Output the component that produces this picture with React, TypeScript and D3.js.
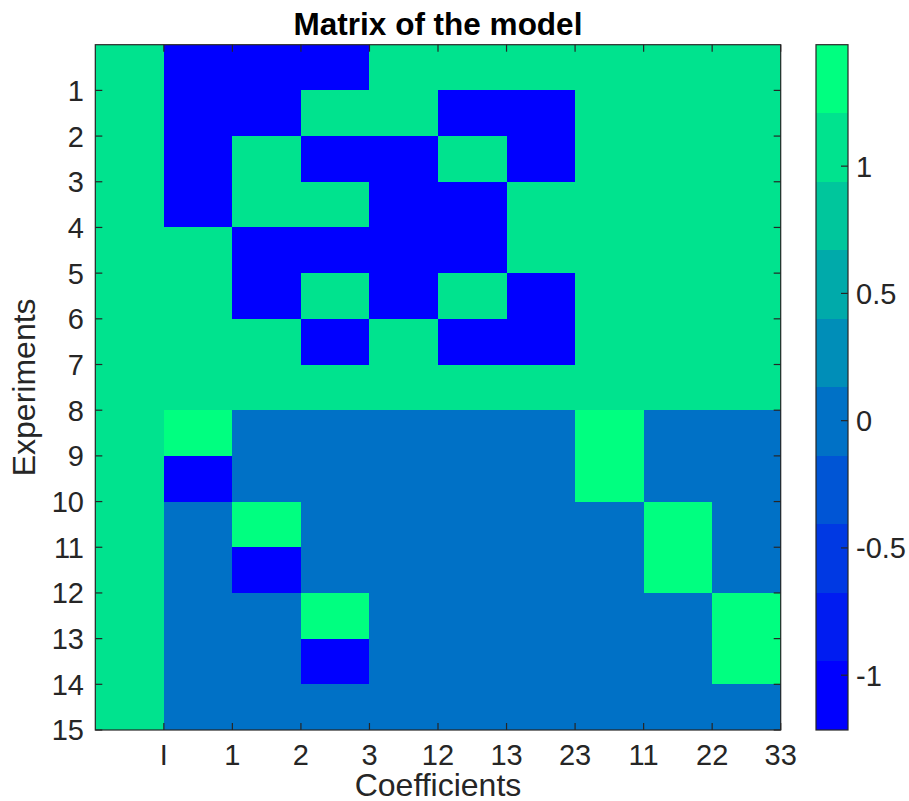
import React from "react";
import * as d3 from "d3";

// Model matrix of a 3-factor orthogonal central composite design (1 centre point)
const A = 1.2154; // axial distance
const A2 = 1.4772; // axial distance squared

const coefficients = ["I", "1", "2", "3", "12", "13", "23", "11", "22", "33"];
const experiments = ["1", "2", "3", "4", "5", "6", "7", "8", "9", "10", "11", "12", "13", "14", "15"];

const modelRows: number[][] = [
  [1, -1, -1, -1, 1, 1, 1, 1, 1, 1],
  [1, -1, -1, 1, 1, -1, -1, 1, 1, 1],
  [1, -1, 1, -1, -1, 1, -1, 1, 1, 1],
  [1, -1, 1, 1, -1, -1, 1, 1, 1, 1],
  [1, 1, -1, -1, -1, -1, 1, 1, 1, 1],
  [1, 1, -1, 1, -1, 1, -1, 1, 1, 1],
  [1, 1, 1, -1, 1, -1, -1, 1, 1, 1],
  [1, 1, 1, 1, 1, 1, 1, 1, 1, 1],
  [1, A, 0, 0, 0, 0, 0, A2, 0, 0],
  [1, -A, 0, 0, 0, 0, 0, A2, 0, 0],
  [1, 0, A, 0, 0, 0, 0, 0, A2, 0],
  [1, 0, -A, 0, 0, 0, 0, 0, A2, 0],
  [1, 0, 0, A, 0, 0, 0, 0, 0, A2],
  [1, 0, 0, -A, 0, 0, 0, 0, 0, A2],
  [1, 0, 0, 0, 0, 0, 0, 0, 0, 0],
];

const colorbarTicks = [-1, -0.5, 0, 0.5, 1];

// "winter" colormap with 10 levels
const N_COLORS = 10;
const winter = d3.range(N_COLORS).map((i) => {
  const t = i / (N_COLORS - 1);
  return d3.rgb(0, Math.round(t * 255), Math.round((1 - t / 2) * 255)).formatHex();
});

const W = 909;
const H = 801;
const plot = { left: 95.3, top: 44.7, right: 780.7, bottom: 730 };
const cbar = { left: 816, right: 848, top: 44.7, bottom: 730 };
const AXIS = "#262626";
const FONT = "'Liberation Sans', Arial, Helvetica, sans-serif";
const TICK_LEN = 7;

export default function App() {
  const allValues = modelRows.flat();
  const vMin = d3.min(allValues) as number;
  const vMax = d3.max(allValues) as number;

  const x = d3.scaleLinear().domain([0, coefficients.length]).range([plot.left, plot.right]);
  const y = d3.scaleLinear().domain([0, experiments.length]).range([plot.top, plot.bottom]);
  const color = d3.scaleQuantize<string>().domain([vMin, vMax]).range(winter);
  const cy = d3.scaleLinear().domain([vMin, vMax]).range([cbar.bottom, cbar.top]);

  const bandEdges = [vMin, ...color.thresholds(), vMax];

  const xTicks = coefficients.map((_, i) => i + 1);
  const yTicks = experiments.map((_, i) => i + 1);

  return (
    <svg width={W} height={H} style={{ display: "block", position: "absolute", left: 0, top: 0 }}>
      <rect x={0} y={0} width={W} height={H} fill="#ffffff" />

      {/* cells */}
      <g shapeRendering="crispEdges">
        {modelRows.map((row, r) =>
          row.map((v, c) => (
            <rect
              key={`${r}-${c}`}
              x={x(c)}
              y={y(r)}
              width={x(c + 1) - x(c)}
              height={y(r + 1) - y(r)}
              fill={color(v)}
            />
          ))
        )}
      </g>

      {/* axes box and inward ticks */}
      <g stroke={AXIS} strokeWidth={1.2} fill="none">
        <rect x={plot.left} y={plot.top} width={plot.right - plot.left} height={plot.bottom - plot.top} />
        {xTicks.map((t) => (
          <g key={`xt${t}`}>
            <line x1={x(t)} x2={x(t)} y1={plot.bottom} y2={plot.bottom - TICK_LEN} />
            <line x1={x(t)} x2={x(t)} y1={plot.top} y2={plot.top + TICK_LEN} />
          </g>
        ))}
        {yTicks.map((t) => (
          <g key={`yt${t}`}>
            <line x1={plot.left} x2={plot.left + TICK_LEN} y1={y(t)} y2={y(t)} />
            <line x1={plot.right} x2={plot.right - TICK_LEN} y1={y(t)} y2={y(t)} />
          </g>
        ))}
      </g>

      {/* tick labels */}
      <g fontFamily={FONT} fontSize={29} fill={AXIS}>
        {xTicks.map((t, i) => (
          <text key={`xl${t}`} x={x(t)} y={765} textAnchor="middle">
            {coefficients[i]}
          </text>
        ))}
        {yTicks.map((t, i) => (
          <text key={`yl${t}`} x={84} y={y(t)} dy="0.36em" textAnchor="end">
            {experiments[i]}
          </text>
        ))}
      </g>

      {/* axis labels and title */}
      <text x={(plot.left + plot.right) / 2} y={796} textAnchor="middle" fontFamily={FONT} fontSize={32} fill={AXIS}>
        Coefficients
      </text>
      <text
        transform={`translate(35, ${(plot.top + plot.bottom) / 2}) rotate(-90)`}
        textAnchor="middle"
        fontFamily={FONT}
        fontSize={32}
        fill={AXIS}
      >
        Experiments
      </text>
      <text
        x={(plot.left + plot.right) / 2}
        y={35}
        textAnchor="middle"
        fontFamily={FONT}
        fontSize={31.5}
        fontWeight="bold"
        fill="#000000"
      >
        Matrix of the model
      </text>

      {/* colorbar */}
      <g shapeRendering="crispEdges">
        {winter.map((c, i) => (
          <rect
            key={`cb${i}`}
            x={cbar.left}
            y={cy(bandEdges[i + 1])}
            width={cbar.right - cbar.left}
            height={cy(bandEdges[i]) - cy(bandEdges[i + 1])}
            fill={c}
          />
        ))}
      </g>
      <g stroke={AXIS} strokeWidth={1.2} fill="none">
        <rect x={cbar.left} y={cbar.top} width={cbar.right - cbar.left} height={cbar.bottom - cbar.top} />
        {colorbarTicks.map((t) => (
          <line key={`ct${t}`} x1={cbar.right} x2={cbar.right - TICK_LEN} y1={cy(t)} y2={cy(t)} />
        ))}
      </g>
      <g fontFamily={FONT} fontSize={29} fill={AXIS}>
        {colorbarTicks.map((t) => (
          <text key={`cl${t}`} x={856} y={cy(t)} dy="0.36em" textAnchor="start">
            {String(t)}
          </text>
        ))}
      </g>
    </svg>
  );
}
